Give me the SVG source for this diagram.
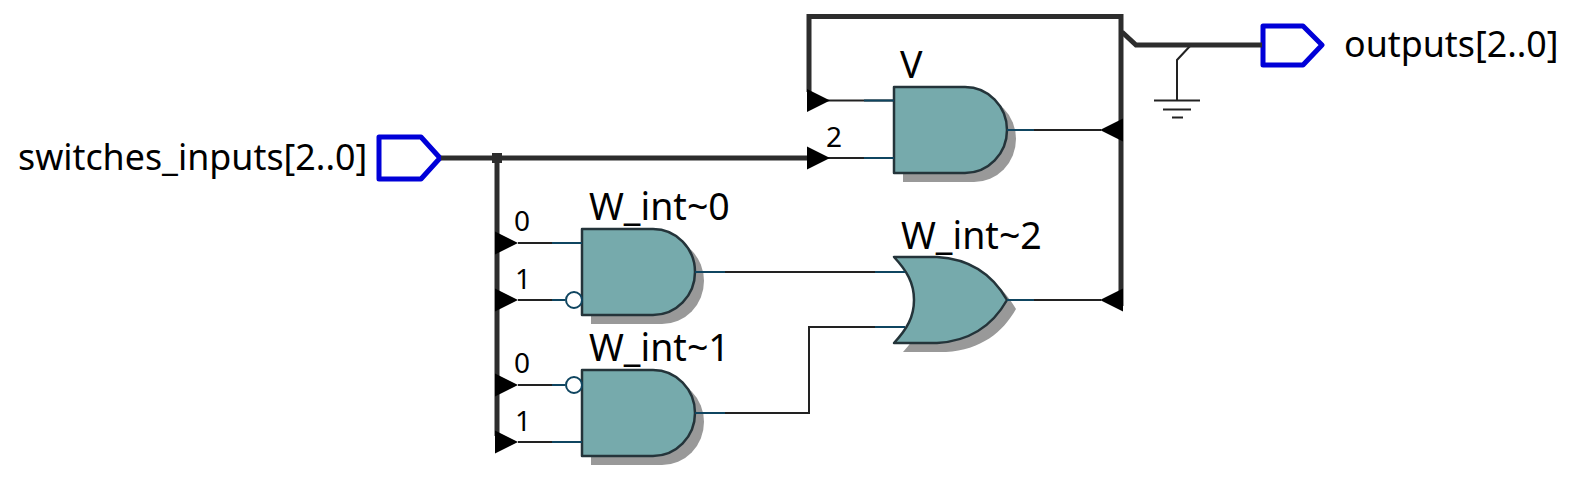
<svg xmlns="http://www.w3.org/2000/svg" width="1576" height="478" viewBox="0 0 1576 478">
<style>
text{font-family:"Noto Sans","Open Sans",sans-serif;fill:#000}
.lbl{font-size:35.800px}
.w{font-size:37.500px}
.idx{font-size:28px}
.bus{fill:none;stroke:#2d2d2d;stroke-width:5}
.sig{fill:none;stroke:#222;stroke-width:2}
.tint{fill:none;stroke:#0f4560;stroke-width:2}
.gate{fill:#76aaac;stroke:#24343a;stroke-width:2.500;stroke-linejoin:round}
.shadow{fill:#999}
.port{fill:#fff;stroke:#0000d8;stroke-width:5;stroke-linejoin:round}
.bub{fill:#fff;stroke:#0f4560;stroke-width:2}
</style>
<defs>
<path id="and" d="M0 0H71A42 43 0 0 1 71 86H0Z"/>
<path id="or" d="M0 0H43C78 2 100 20 113 43C100 66 78 84 43 86H0C13 72 20 60 20 43C20 26 13 14 0 0Z"/>
<path id="arr" d="M0 -11.500L23 0L0 11.500Z" fill="#000"/>
</defs>
<g id="switches_inputs">
<path class="port" d="M379 137H421L440 158L421 179H379Z"/>
<text class="lbl" x="18" y="170">switches_inputs[2..0]</text>
</g>
<g id="outputs">
<path class="port" d="M1263 26H1303L1322 45L1303 65H1263Z"/>
<text class="lbl" x="1344" y="57">outputs[2..0]</text>
</g>
<g id="gnd">
<path class="sig" d="M1191 45L1177 60V100"/>
<path class="sig" d="M1154 100.500H1200M1163 109.500H1191M1172 117.500H1183"/>
</g>
<g id="V">
<use href="#and" class="shadow" x="903" y="96"/>
<use href="#and" class="gate" x="894" y="87"/>
<text class="w" x="900" y="78">V</text>
</g>
<g id="W_int0">
<use href="#and" class="shadow" x="591" y="238"/>
<use href="#and" class="gate" x="582" y="229"/>
<circle class="bub" cx="574" cy="300" r="8"/>
<text class="w" x="589" y="220">W_int~0</text>
</g>
<g id="W_int1">
<use href="#and" class="shadow" x="591" y="379"/>
<use href="#and" class="gate" x="582" y="370"/>
<circle class="bub" cx="574" cy="385" r="8"/>
<text class="w" x="589" y="361">W_int~1</text>
</g>
<g id="W_int2">
<use href="#or" class="shadow" x="903" y="266"/>
<use href="#or" class="gate" x="894" y="257"/>
<text class="w" x="901" y="249">W_int~2</text>
</g>
<g id="connectors">
<path class="bus" d="M441 158H809"/>
<path class="bus" d="M497 158V436"/>
<path class="bus" d="M809 92V16.500H1121V306"/>
<path class="bus" d="M1122 32L1136 45H1262"/>
<path class="sig" d="M825 100.500H894M825 158H894"/>
<path class="sig" d="M1007 130H1101"/>
<path class="sig" d="M518 243H582M518 300H565"/>
<path class="sig" d="M518 385H565M518 442H582"/>
<path class="sig" d="M695 272H905"/>
<path class="sig" d="M695 413H809V327H905"/>
<path class="sig" d="M1007 300H1101"/>
<path class="tint" d="M864 100.500H894M864 158H894M1007 130H1034M552 243H582M552 300H565M552 385H565M552 442H582M695 272H725M695 413H725M875 272H905M875 327H905M1007 300H1034"/>
<use href="#arr" x="807" y="100.500"/>
<use href="#arr" x="807" y="158"/>
<use href="#arr" x="495" y="243"/>
<use href="#arr" x="495" y="300"/>
<use href="#arr" x="495" y="385"/>
<use href="#arr" x="495" y="442"/>
<use href="#arr" transform="translate(1123 130) scale(-1 1)"/>
<use href="#arr" transform="translate(1123 300) scale(-1 1)"/>
<rect x="492" y="153" width="10" height="10" fill="#2d2d2d"/>
<text class="idx" x="826" y="147">2</text>
<text class="idx" x="514" y="231">0</text>
<text class="idx" x="515" y="289">1</text>
<text class="idx" x="514" y="373">0</text>
<text class="idx" x="515" y="431">1</text>
</g>
</svg>
